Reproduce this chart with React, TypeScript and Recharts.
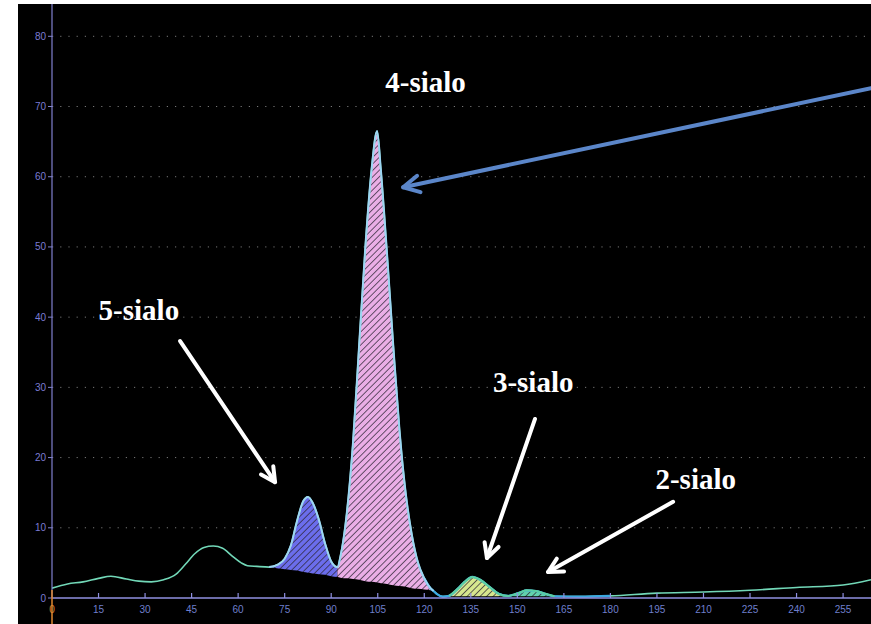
import { ComposedChart, Area, Line, XAxis, YAxis, CartesianGrid, ReferenceLine, ReferenceDot } from 'recharts';

// retention time (x) and detector signal (y) of the trace
const RT = [
  0, 5, 10, 15, 19, 24, 28, 32, 36, 40, 43, 46, 49, 52, 55, 58, 61, 63, 66, 70,
  73, 75, 77, 79, 81, 82.5, 84, 86, 88, 90, 92, 93, 95, 97, 99, 101, 103, 104.8, 106, 108,
  110, 112, 114, 116, 118, 120, 122, 123, 124, 126, 128, 131, 133, 135.5, 138, 141, 144, 147, 149, 151,
  153, 156, 159, 162, 170, 180, 195, 210, 225, 240, 255, 264,
];
const SIGNAL = [
  1.4, 2.0, 2.3, 2.8, 3.1, 2.7, 2.4, 2.3, 2.6, 3.4, 4.8, 6.3, 7.2, 7.4, 7.1, 6.0, 5.0, 4.6, 4.5, 4.4,
  4.8, 5.6, 7.5, 11.0, 13.8, 14.4, 13.6, 11.2, 7.8, 5.2, 4.4, 6.0, 12.0, 22.0, 36.0, 50.0, 61.0, 66.5, 61.0, 49.0,
  36.0, 24.0, 15.0, 9.0, 5.0, 2.8, 1.4, 1.0, 0.6, 0.2, 0.3, 1.4, 2.3, 3.0, 2.6, 1.6, 0.6, 0.3, 0.5, 0.8,
  1.1, 1.0, 0.6, 0.25, 0.2, 0.3, 0.7, 0.85, 1.1, 1.5, 1.85, 2.6,
];
// integration baseline under the peaks (null = not integrated)
const BASELINE = [
  null, null, null, null, null, null, null, null, null, null, null, null, null, null, null, null, null, null, null, 4.4,
  4.2, 4.1, 4.0, 3.9, 3.7, 3.6, 3.5, 3.4, 3.3, 3.1, 3.0, 2.9, 2.8, 2.7, 2.6, 2.4, 2.3, 2.2, 2.1, 2.0,
  1.8, 1.7, 1.6, 1.4, 1.3, 1.2, 1.1, 1.0, null, null, 0.25, 0.25, 0.25, 0.25, 0.25, 0.25, 0.25, 0.25, 0.25, 0.25,
  0.25, 0.25, 0.25, 0.25, null, null, null, null, null, null, null, null,
];

const X_TICKS = [0, 15, 30, 45, 60, 75, 90, 105, 120, 135, 150, 165, 180, 195, 210, 225, 240, 255];
const Y_TICKS = [0, 10, 20, 30, 40, 50, 60, 70, 80];

// integrated peaks: retention window and fill
const PEAKS = [
  { key: 's5', from: 70, to: 92, color: '#6b6dec' },
  { key: 's4', from: 92, to: 123, color: '#eaaee6' },
  { key: 's3', from: 128, to: 147, color: '#d6e68e' },
  { key: 's2', from: 147, to: 162, color: '#62d1ad' },
];

const LABELS = [
  { text: '4-sialo', x: 120.4, y: 73.5 },
  { text: '5-sialo', x: 28.0, y: 41.0 },
  { text: '3-sialo', x: 155.1, y: 30.8 },
  { text: '2-sialo', x: 207.5, y: 17.0 },
];

const ARROWS = [
  { from: { x: 41.3, y: 36.6 }, to: { x: 71.9, y: 16.5 }, color: '#ffffff' },
  { from: { x: 155.7, y: 25.5 }, to: { x: 140.2, y: 5.7 }, color: '#ffffff' },
  { from: { x: 200.2, y: 13.7 }, to: { x: 159.9, y: 3.7 }, color: '#ffffff' },
  { from: { x: 264, y: 72.6 }, to: { x: 113.2, y: 58.5 }, color: '#5b86c9' },
];

const rows = RT.map((t, i) => {
  const row: Record<string, any> = { t, signal: SIGNAL[i] };
  const base = BASELINE[i];
  PEAKS.forEach((p) => {
    if (base != null && t >= p.from && t <= p.to) row[p.key] = [base, SIGNAL[i]];
  });
  if (base != null && t <= 123) row.edgeMain = SIGNAL[i];
  if (base != null && t >= 128) row.edgeMinor = SIGNAL[i];
  if (t >= 120 && t <= 180) row.tail = SIGNAL[i];
  return row;
});

function XTick(props: any) {
  const { x, y, payload } = props;
  const zero = payload.value === 0;
  return (
    <g>
      {zero ? (
        <line x1={x} x2={x} y1={y - 8} y2={y + 28} stroke="#e0892f" strokeWidth={1.5} />
      ) : (
        <line x1={x} x2={x} y1={y - 5} y2={y} stroke="#8f8fe0" strokeWidth={1.2} />
      )}
      <text x={x} y={y + 15} textAnchor="middle" fontSize={10} fontFamily="'Liberation Sans', Arial, sans-serif" fill={zero ? '#e0892f' : '#6f7fcc'}>
        {payload.value}
      </text>
    </g>
  );
}

function arrowShape(color: string) {
  return (p: any) => {
    const { x1, y1, x2, y2 } = p;
    const a = Math.atan2(y2 - y1, x2 - x1);
    const head = color === '#ffffff' ? 16 : 18;
    const s = 0.48;
    const ax = x2 - head * Math.cos(a - s);
    const ay = y2 - head * Math.sin(a - s);
    const bx = x2 - head * Math.cos(a + s);
    const by = y2 - head * Math.sin(a + s);
    return (
      <g>
        <line x1={x1} y1={y1} x2={x2} y2={y2} stroke={color} strokeWidth={4} strokeLinecap="round" />
        <polyline points={`${ax},${ay} ${x2},${y2} ${bx},${by}`} fill="none" stroke={color} strokeWidth={4} strokeLinecap="round" strokeLinejoin="round" />
      </g>
    );
  };
}

function labelShape(text: string) {
  return (p: any) => (
    <text
      x={p.cx}
      y={p.cy}
      textAnchor="middle"
      dominantBaseline="central"
      fill="#ffffff"
      fontFamily="'Liberation Serif', 'Times New Roman', serif"
      fontWeight="bold"
      fontSize={29}
    >
      {text}
    </text>
  );
}

export default function App() {
  return (
    <div style={{ position: 'absolute', left: 0, top: 0, width: 871, height: 624, background: '#ffffff' }}>
      <div style={{ position: 'absolute', left: 18, top: 4, width: 853, height: 620, background: '#000000' }}>
        <ComposedChart width={853} height={620} data={rows} margin={{ top: 0, right: 0, bottom: 0, left: 0 }}>
          <defs>
            {PEAKS.map((p) => (
              <pattern key={p.key} id={`hatch-${p.key}`} width={4.6} height={4.6} patternUnits="userSpaceOnUse" patternTransform="rotate(45)">
                <rect width={4.6} height={4.6} fill={p.color} />
                <line x1={0} y1={0} x2={0} y2={4.6} stroke="#2a2432" strokeWidth={1.4} />
              </pattern>
            ))}
          </defs>
          <CartesianGrid vertical={false} stroke="#777777" strokeDasharray="1.2 7" horizontalValues={Y_TICKS.filter((v) => v > 0)} />
          <XAxis
            dataKey="t"
            type="number"
            domain={[0, 264]}
            ticks={X_TICKS}
            allowDataOverflow
            height={26}
            tickSize={0}
            tickMargin={0}
            tickLine={false}
            axisLine={{ stroke: '#9090e0', strokeWidth: 1.5 }}
            tick={<XTick />}
            interval={0}
          />
          <YAxis
            type="number"
            domain={[0, 84.6]}
            ticks={Y_TICKS}
            allowDataOverflow
            width={34}
            tickSize={4}
            tickMargin={2}
            axisLine={{ stroke: '#8080d0', strokeWidth: 1.2 }}
            tickLine={{ stroke: '#8080d0' }}
            tick={{ fill: '#7b7bd3', fontSize: 10, fontFamily: "'Liberation Sans', Arial, sans-serif" }}
            interval={0}
          />
          <Line dataKey="signal" type="monotone" stroke="#72d8b8" strokeWidth={1.6} dot={false} activeDot={false} isAnimationActive={false} />
          {PEAKS.map((p) => (
            <Area
              key={p.key}
              dataKey={p.key}
              type="monotone"
              stroke="none"
              fill={`url(#hatch-${p.key})`}
              fillOpacity={1}
              dot={false}
              activeDot={false}
              isAnimationActive={false}
            />
          ))}
          <Line dataKey="tail" type="monotone" stroke="#3ba9e2" strokeWidth={2.2} dot={false} activeDot={false} isAnimationActive={false} />
          <Line dataKey="edgeMain" type="monotone" stroke="#9dd5f2" strokeWidth={2} dot={false} activeDot={false} isAnimationActive={false} />
          <Line dataKey="edgeMinor" type="monotone" stroke="#5ccfa2" strokeWidth={2} dot={false} activeDot={false} isAnimationActive={false} />
          {ARROWS.map((a, i) => (
            <ReferenceLine key={`arrow-${i}`} segment={[a.from, a.to]} ifOverflow="visible" shape={arrowShape(a.color)} />
          ))}
          {LABELS.map((l) => (
            <ReferenceDot key={l.text} x={l.x} y={l.y} r={0} ifOverflow="visible" shape={labelShape(l.text)} />
          ))}
        </ComposedChart>
      </div>
    </div>
  );
}
